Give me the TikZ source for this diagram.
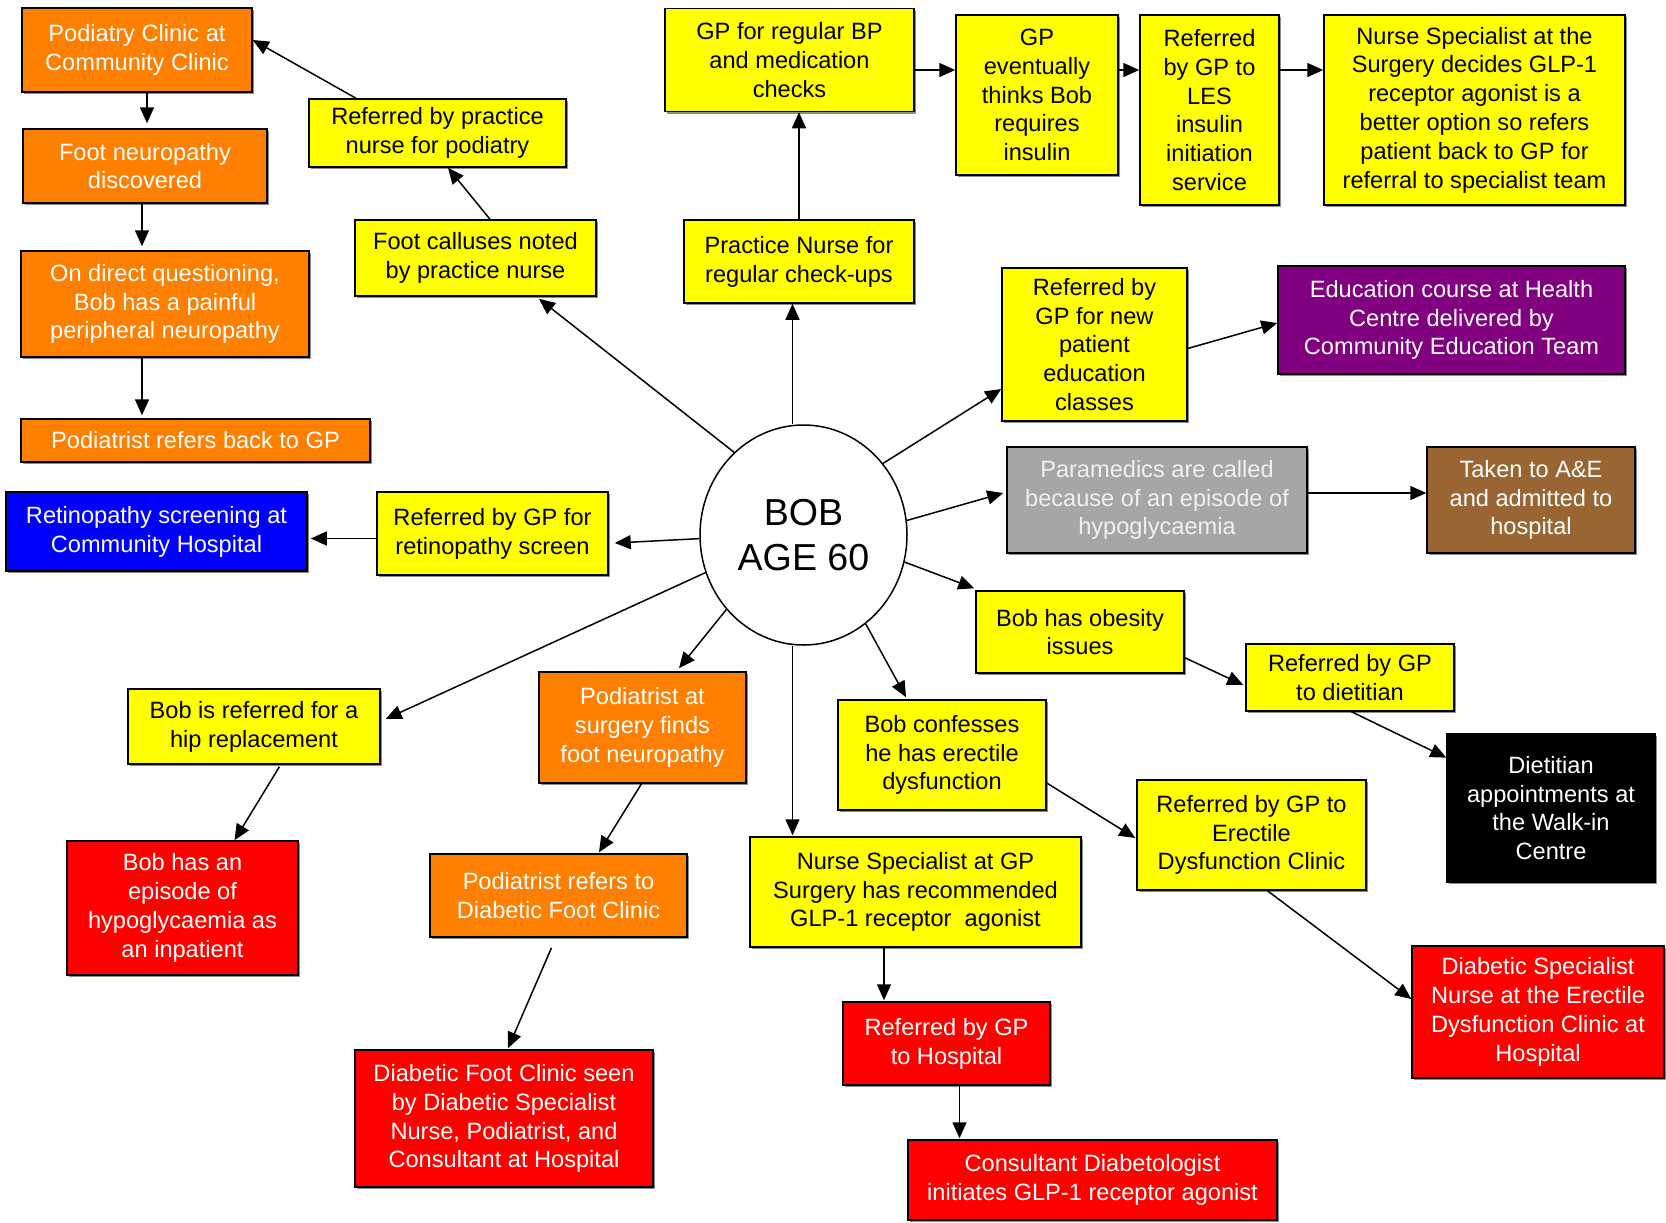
\documentclass[tikz,border=0pt]{standalone}
\usepackage{fontspec}
\setmainfont{Liberation Sans}
\usetikzlibrary{calc, shapes.geometric, arrows.meta, shadows}
\definecolor{boxyellow}{RGB}{255,255,0}
\definecolor{boxorange}{RGB}{255,128,0}
\definecolor{boxblue}{RGB}{0,0,255}
\definecolor{boxpurple}{RGB}{128,0,128}
\definecolor{boxred}{RGB}{255,0,0}
\definecolor{boxbrown}{RGB}{153,102,51}
\definecolor{boxgray}{RGB}{166,166,166}
\definecolor{palegray}{RGB}{240,240,240}
\tikzstyle{box}=[rectangle, draw, line width=0.75pt, align=center, inner sep=2pt,
  font=\fontsize{11.8}{14.4}\selectfont,
  drop shadow={shadow xshift=1pt, shadow yshift=-1pt, fill=black!45, opacity=1}]
\tikzstyle{ybox}=[box, fill=boxyellow, text=black]
\tikzstyle{obox}=[box, fill=boxorange, text=white]
\tikzstyle{rbox}=[box, fill=boxred, text=white]
\tikzstyle{arr}=[-{Triangle[length=8pt,width=7pt]}, line width=0.75pt]
\tikzset{wh/.style 2 args={minimum width=#1*0.5pt, minimum height=#2*0.5pt}}

\begin{document}
\begin{tikzpicture}[x=0.5pt, y=-0.5pt]
    \useasboundingbox (0,0) rectangle (1666,1222);
    % centre
    \node[ellipse, draw, line width=0.75pt, fill=white, minimum width=103.5pt, minimum height=110pt, inner sep=0pt,
      font=\fontsize{18.8}{22.5}\selectfont, align=center] (bob) at (803.5,535) {BOB\\AGE 60};
    % left branch
    \node[obox, wh={230}{84}] (pod) at (137,50) {Podiatry Clinic at\\Community Clinic};
    \node[obox, wh={244}{74}] (footneu) at (145,166) {Foot neuropathy\\discovered};
    \node[obox, wh={288}{106}] (direct) at (165,304) {On direct questioning,\\Bob has a painful\\peripheral neuropathy};
    \node[obox, wh={349}{43}] (podback) at (195.5,440.5) {Podiatrist refers back to GP};
    \node[box, fill=boxblue, text=white, wh={301}{79}] (retino) at (156.5,531.5) {Retinopathy screening at\\Community Hospital};
    \node[ybox, wh={231}{83}] (refretino) at (492.5,533.5) {Referred by GP for\\retinopathy screen};
    \node[ybox, wh={257}{68}] (refpod) at (437.5,133) {Referred by practice\\nurse for podiatry};
    \node[ybox, wh={241}{76}] (callus) at (475.5,258) {Foot calluses noted\\by practice nurse};
    % top branch
    \node[ybox, wh={249}{103}] (gpbp) at (789.5,60) {GP for regular BP\\and medication\\checks};
    \node[ybox, wh={230}{83}] (pn) at (799,261.5) {Practice Nurse for\\regular check-ups};
    \node[ybox, wh={162}{160}] (gpins) at (1037,95) {GP\\eventually\\thinks Bob\\requires\\insulin};
    \node[ybox, wh={139}{190}] (les) at (1209.5,110) {Referred\\by GP to\\LES\\insulin\\initiation\\service};
    \node[ybox, wh={301}{190}] (nsurg) at (1474.5,110) {Nurse Specialist at the\\Surgery decides GLP-1\\receptor agonist is a\\better option so refers\\patient back to GP for\\referral to specialist team};
    % right branch
    \node[ybox, wh={185}{153}] (edref) at (1094.5,344.5) {Referred by\\GP for new\\patient\\education\\classes};
    \node[box, fill=boxpurple, text=white, wh={347}{108}] (educ) at (1451.5,320) {Education course at Health\\Centre delivered by\\Community Education Team};
    \node[box, fill=boxgray, text=palegray, wh={300}{106}] (para) at (1157,500) {Paramedics are called\\because of an episode of\\hypoglycaemia};
    \node[box, fill=boxbrown, text=white, wh={208}{106}] (ae) at (1531,500) {Taken to A\&E\\and admitted to\\hospital};
    \node[ybox, wh={208}{82}] (obes) at (1080,632) {Bob has obesity\\issues};
    \node[ybox, wh={208}{67}] (diet) at (1350,677.5) {Referred by GP\\to dietitian};
    \node[box, fill=black, text=white, wh={208}{148}] (walk) at (1551,808) {Dietitian\\appointments at\\the Walk-in\\Centre};
    \node[ybox, wh={208}{110}] (erect) at (942,755) {Bob confesses\\he has erectile\\dysfunction};
    \node[ybox, wh={229}{110}] (edclin) at (1251.5,835) {Referred by GP to\\Erectile\\Dysfunction Clinic};
    \node[rbox, wh={252}{132}] (dsn) at (1538,1012) {Diabetic Specialist\\Nurse at the Erectile\\Dysfunction Clinic at\\Hospital};
    % bottom branch
    \node[ybox, wh={331}{110}] (nsgp) at (915.5,892) {Nurse Specialist at GP\\Surgery has recommended\\GLP-1 receptor\ \ agonist};
    \node[rbox, wh={207}{83}] (refhosp) at (946.5,1043.5) {Referred by GP\\to Hospital};
    \node[rbox, wh={369}{80}] (cons) at (1092.5,1180) {Consultant Diabetologist\\initiates GLP-1 receptor agonist};
    \node[obox, wh={207}{111}] (podsurg) at (642.5,727.5) {Podiatrist at\\surgery finds\\foot neuropathy};
    \node[obox, wh={257}{83}] (podfoot) at (558.5,895.5) {Podiatrist refers to\\Diabetic Foot Clinic};
    \node[rbox, wh={298}{137}] (dfc) at (504,1118.5) {Diabetic Foot Clinic seen\\by Diabetic Specialist\\Nurse, Podiatrist, and\\Consultant at Hospital};
    \node[ybox, wh={252}{75}] (hip) at (254,726.5) {Bob is referred for a\\hip replacement};
    \node[rbox, wh={231}{134}] (hypo) at (182.5,908) {Bob has an\\episode of\\hypoglycaemia as\\an inpatient};
    % connectors
    \draw[arr] ($(refpod.north)+(-81.5,0)$) -- ($(pod.east)+(0,-10)$);
    \draw[arr] ($(pod.south)+(10,0)$) -- ($(footneu.north)+(2,-5)$);
    \draw[arr] ($(footneu.south)+(-3,0)$) -- ($(direct.north)+(-23,-4)$);
    \draw[arr] ($(direct.south)+(-23,0)$) -- ($(podback.north)+(-53.5,-3)$);
    \draw[arr] ($(callus.north)+(14.5,0)$) -- ($(refpod.south)+(10.5,0)$);
    \draw[arr] (bob.130) -- ($(callus.south)+(63.5,2)$);
    \draw[arr] ($(bob.north)+(-11,0)$) -- ($(pn.south)+(-6.5,0)$);
    \draw[arr] (pn.north) -- (pn.north |- gpbp.south);
    \draw[arr] ($(gpbp.east)+(0,10)$) -- ($(gpins.west)+(0,-25)$);
    \draw[arr] ($(gpins.east)+(0,-25)$) -- ($(les.west)+(0,-40)$);
    \draw[arr] ($(les.east)+(0,-40)$) -- ($(nsurg.west)+(0,-40)$);
    \draw[arr] (bob.42.6) -- ($(edref.west)+(0,44.5)$);
    \draw[arr] ($(edref.east)+(0,4)$) -- ($(educ.west)+(0,3)$);
    \draw[arr] (bob.8) -- ($(para.west)+(-3,-7)$);
    \draw[arr] ($(para.east)+(0,-7)$) -- ($(ae.west)+(0,-7)$);
    \draw[arr] (bob.182) -- ($(refretino.east)+(6,9.5)$);
    \draw[arr] ($(refretino.west)+(0,5)$) -- ($(retino.east)+(3,7)$);
    \draw[arr] (bob.-15.3) -- ($(obes.north west)+(-1,-2)$);
    \draw[arr] ($(obes.east)+(0,25.7)$) -- ($(diet.west)+(-2,7.5)$);
    \draw[arr] ($(diet.south)+(1.5,0)$) -- ($(walk.west)+(0,-50.4)$);
    \draw[arr] (bob.-55) -- ($(erect.north)+(-36,-2)$);
    \draw[arr] ($(erect.east)+(0,28)$) -- ($(edclin.west)+(-1,3)$);
    \draw[arr] ($(edclin.south)+(16,0)$) -- ($(dsn.west)+(0,-13)$);
    \draw[arr] ($(bob.south)+(-11,0)$) -- ($(nsgp.north)+(-123,-1)$);
    \draw[arr] ($(nsgp.south)+(-31.5,0)$) -- ($(refhosp.north)+(-62.5,-1)$);
    \draw[arr] ($(refhosp.south)+(13,0)$) -- ($(cons.north)+(-133,-1)$);
    \draw[arr] (bob.224.7) -- ($(podsurg.north)+(36.5,-3)$);
    \draw[arr] ($(podsurg.south)+(-1,0)$) -- ($(podfoot.north)+(40.5,-1)$);
    \draw[arr] ($(podfoot.south)+(-7,10)$) -- ($(dfc.north)+(4,-1)$);
    \draw[arr] (bob.201.8) -- ($(hip.east)+(5,-7.5)$);
    \draw[arr] ($(hip.south)+(25.4,2)$) -- ($(hypo.north)+(52,0)$);
\end{tikzpicture}
\end{document}
